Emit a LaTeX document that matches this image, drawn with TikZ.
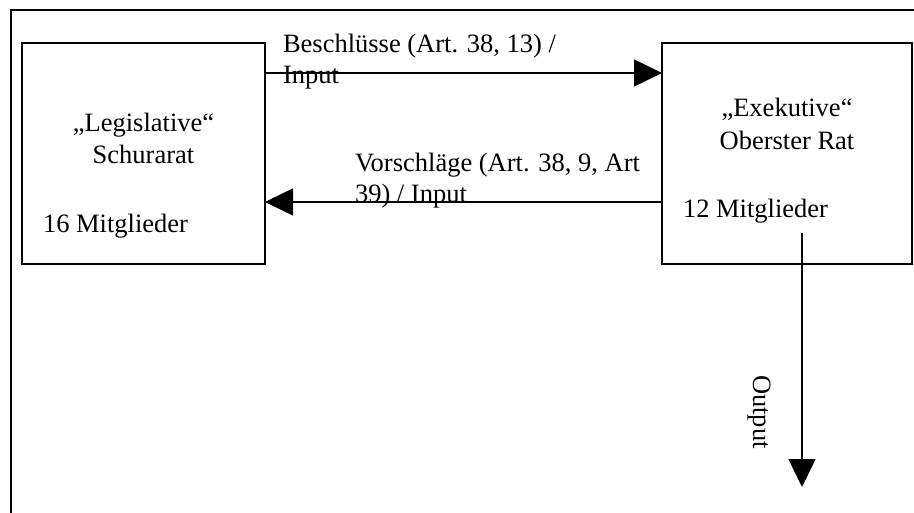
\documentclass[tikz,border=0pt]{standalone}
\usepackage{fontspec}
\setmainfont{Liberation Serif}
\usetikzlibrary{arrows.meta}
\begin{document}
\begin{tikzpicture}[x=1bp,y=-1bp,
  every node/.style={inner sep=0pt, outer sep=0pt, font=\fontsize{26.5bp}{31bp}\selectfont},
  box/.style={draw, line width=1.5bp, minimum height=221bp},
  txt/.style={anchor=base west},
  ctxt/.style={anchor=base},
  conn/.style={line width=1.5bp, -{Triangle[length=28bp,width=27bp]}},
  frame/.style={line width=1.5bp}]
\useasboundingbox (0,0) rectangle (914,513);
% outer frame
\draw[frame] (914,10) -- (11,10) -- (11,513);
% boxes
\node[box, minimum width=243bp] (leg) at (143.5,153.5) {};
\node[box, minimum width=250bp] (exe) at (787,153.5) {};
% box texts
\node[ctxt] (leg1) at (143.5,132) {„Legislative“};
\node[ctxt] (leg2) at (143.5,164) {Schurarat};
\node[txt] (leg3) at (43,233) {16 Mitglieder};
\node[ctxt] (exe1) at (787,117) {„Exekutive“};
\node[ctxt] (exe2) at (787,150) {Oberster Rat};
\node[txt] (exe3) at (683,218) {12 Mitglieder};
% connectors
\coordinate (a1) at (leg.east |- 0,73);
\coordinate (a2) at (exe.west |- 0,73);
\draw[conn] (a1) -- (a2);
\coordinate (b1) at (exe.west |- 0,202);
\coordinate (b2) at (leg.east |- 0,202);
\draw[conn] (b1) -- (b2);
\coordinate (c1) at (802,233);
\coordinate (c2) at (802,487);
\draw[conn] (c1) -- (c2);
% labels
\node[txt] (l1) at (283,53) {Beschlüsse (Art. 38, 13) /};
\node[txt] (l2) at (283,84) {Input};
\node[txt] (l3) at (355,172) {Vorschläge (Art. 38, 9, Art};
\node[txt] (l4) at (355,203) {39) / Input};
\node[anchor=base west, rotate=-90] (out) at (753,375) {Output};
\end{tikzpicture}
\end{document}
